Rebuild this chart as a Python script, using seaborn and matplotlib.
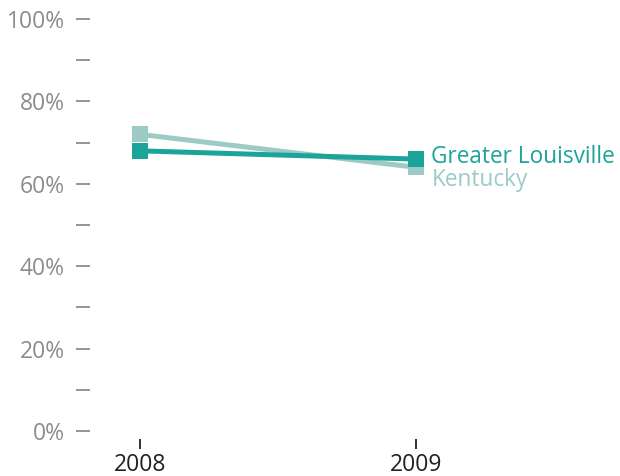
import pandas as pd
import seaborn as sns
import matplotlib.pyplot as plt
import matplotlib.ticker as ticker

years = [2008, 2009]
greater_louisville = [68, 66]
kentucky = [72, 64]

series_names = ["Kentucky", "Greater Louisville"]
series_colors = {"Kentucky": "#9ccbc6", "Greater Louisville": "#1ca39a"}

df = pd.DataFrame(
    {
        "year": years * 2,
        "value": kentucky + greater_louisville,
        "series": ["Kentucky"] * 2 + ["Greater Louisville"] * 2,
    }
)

sns.set_style("white")
plt.rcParams["font.family"] = ["Open Sans", "DejaVu Sans"]

fig = plt.figure(figsize=(6.2, 4.76), dpi=100)
ax = fig.add_axes([90 / 620, 45 / 476, 530 / 620, 412 / 476])

sns.lineplot(
    data=df,
    x="year",
    y="value",
    hue="series",
    hue_order=series_names,
    palette=series_colors,
    marker="s",
    markersize=11.5,
    markeredgewidth=0,
    linewidth=3.6,
    legend=False,
    ax=ax,
)

ax.set_ylim(0, 100)
ax.set_xlim(2008 - 50 / 276, 2009 + 204 / 276)
ax.yaxis.set_major_locator(ticker.MultipleLocator(10))
ax.yaxis.set_major_formatter(
    ticker.FuncFormatter(lambda v, pos: f"{v:.0f}%" if round(v) % 20 == 0 else "")
)
ax.set_xticks(years)
ax.set_xticklabels([str(y) for y in years])

for s in ax.spines.values():
    s.set_visible(False)
ax.spines["bottom"].set_position(("outward", 6))

ax.tick_params(axis="y", which="major", left=True, length=10, width=1.3,
               color="#8c8c8c", labelcolor="#8c8c8c", labelsize=16.5, pad=8)
ax.tick_params(axis="x", which="major", bottom=True, length=7, width=1.3,
               color="#222222", labelcolor="#222222", labelsize=16.5, pad=3)
ax.set_xlabel("")
ax.set_ylabel("")

# end labels next to the last points
offsets = {"Greater Louisville": 1.5, "Kentucky": -9}
for name, vals in [("Greater Louisville", greater_louisville), ("Kentucky", kentucky)]:
    ax.annotate(
        name,
        xy=(years[-1], vals[-1]),
        xytext=(11, offsets[name]),
        textcoords="offset points",
        va="center",
        ha="left",
        color=series_colors[name],
        fontsize=16.3,
        annotation_clip=False,
    )

fig.savefig("out.png", dpi=100)
